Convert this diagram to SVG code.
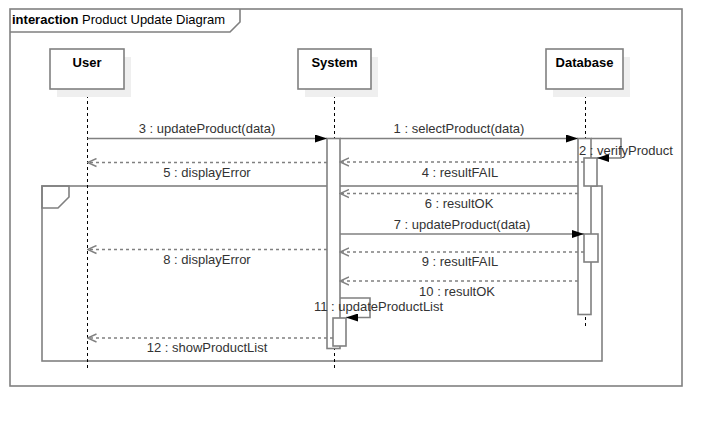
<svg xmlns="http://www.w3.org/2000/svg" width="722" height="426" viewBox="0 0 722 426">
<defs>
<style>
.frame{fill:none;stroke:#808080;stroke-width:1.6}
.head{fill:#fff;stroke:#808080;stroke-width:1.6}
.shadow{fill:#efefef;stroke:none}
.life{fill:none;stroke:#000;stroke-width:1;stroke-dasharray:3 3}
.act{fill:#fff;stroke:#808080;stroke-width:1.6}
.msg{fill:none;stroke:#808080;stroke-width:1.6}
.ret{fill:none;stroke:#808080;stroke-width:1.6;stroke-dasharray:3 3}
.name{font-family:"Liberation Sans",Arial,sans-serif;font-size:13px;font-weight:bold;fill:#000;text-anchor:middle}
.lbl{font-family:"Liberation Sans",Arial,sans-serif;font-size:13px;fill:#333;text-anchor:middle}
.lbls{font-family:"Liberation Sans",Arial,sans-serif;font-size:13px;fill:#333}
</style>
<marker id="filled" viewBox="0 0 12 8" refX="12" refY="4" markerWidth="12" markerHeight="8" markerUnits="userSpaceOnUse" orient="auto">
<path d="M0,0 L12,4 L0,8 Z" fill="#000"/>
</marker>
<marker id="open" viewBox="0 0 10 10" refX="9" refY="5" markerWidth="10" markerHeight="10" markerUnits="userSpaceOnUse" orient="auto">
<path d="M0,1 L9,5 L0,9" fill="none" stroke="#808080" stroke-width="1.4"/>
</marker>
</defs>
<rect width="722" height="426" fill="#fff"/>

<g id="frame">
<rect class="frame" x="10" y="9" width="672" height="377"/>
<path class="frame" d="M10,32 H230 L240,22 V9" fill="#fff"/>
<text x="12" y="24" font-family="Liberation Sans, Arial, sans-serif" font-size="13" fill="#000"><tspan font-weight="bold">interaction</tspan> Product Update Diagram</text>
</g>

<g id="fragment">
<rect class="frame" x="42" y="186" width="560" height="175"/>
<path class="frame" d="M42,186 H69 V197 L58,208 H42 Z"/>
</g>

<g id="user">
<line class="life" x1="87.5" y1="89" x2="87.5" y2="368"/>
<rect class="shadow" x="57" y="57" width="74" height="40"/>
<rect class="head" x="50" y="49" width="74" height="40"/>
<text class="name" x="87" y="67">User</text>
</g>

<g id="system">
<line class="life" x1="334.5" y1="89" x2="334.5" y2="368"/>
<rect class="shadow" x="305" y="57" width="73" height="40"/>
<rect class="head" x="298" y="49" width="73" height="40"/>
<text class="name" x="334.5" y="67">System</text>
<rect class="act" x="327" y="138.5" width="13" height="210"/>
<rect class="act" x="333" y="318" width="13" height="28"/>
</g>

<g id="database">
<line class="life" x1="585.5" y1="89" x2="585.5" y2="327"/>
<rect class="shadow" x="553" y="57" width="77" height="40"/>
<rect class="head" x="546" y="49" width="77" height="40"/>
<text class="name" x="584.5" y="67">Database</text>
<rect class="act" x="578" y="138.5" width="13" height="176"/>
<rect class="act" x="584" y="158" width="13" height="28"/>
<rect class="act" x="584" y="234" width="14" height="28"/>
</g>

<g id="connectors">
<line class="msg" x1="87.5" y1="138.5" x2="327" y2="138.5" marker-end="url(#filled)"/>
<line class="msg" x1="340" y1="138.5" x2="578" y2="138.5" marker-end="url(#filled)"/>
<path class="msg" d="M591,138.5 H621 V158 H597" marker-end="url(#filled)"/>
<line class="ret" x1="584" y1="162" x2="340" y2="162" marker-end="url(#open)"/>
<line class="ret" x1="327" y1="162.5" x2="87.5" y2="162.5" marker-end="url(#open)"/>
<line class="ret" x1="578" y1="193.5" x2="340" y2="193.5" marker-end="url(#open)"/>
<line class="msg" x1="340" y1="234" x2="584" y2="234" marker-end="url(#filled)"/>
<line class="ret" x1="327" y1="249.5" x2="87.5" y2="249.5" marker-end="url(#open)"/>
<line class="ret" x1="584" y1="252" x2="340" y2="252" marker-end="url(#open)"/>
<line class="ret" x1="578" y1="281" x2="340" y2="281" marker-end="url(#open)"/>
<path class="msg" d="M340,298 H370 V317.5 H346" marker-end="url(#filled)"/>
<line class="ret" x1="333" y1="338" x2="87.5" y2="338" marker-end="url(#open)"/>
</g>

<g id="labels">
<text class="lbl" x="207" y="133">3 : updateProduct(data)</text>
<text class="lbl" x="459" y="133">1 : selectProduct(data)</text>
<text class="lbls" x="579" y="155">2 : verifyProduct</text>
<text class="lbl" x="460" y="177">4 : resultFAIL</text>
<text class="lbl" x="207" y="177">5 : displayError</text>
<text class="lbl" x="459" y="208">6 : resultOK</text>
<text class="lbl" x="462" y="229">7 : updateProduct(data)</text>
<text class="lbl" x="207" y="264">8 : displayError</text>
<text class="lbl" x="460" y="266">9 : resultFAIL</text>
<text class="lbl" x="457" y="296">10 : resultOK</text>
<text class="lbls" x="314" y="311">11 : updateProductList</text>
<text class="lbl" x="207" y="352">12 : showProductList</text>
</g>
</svg>
